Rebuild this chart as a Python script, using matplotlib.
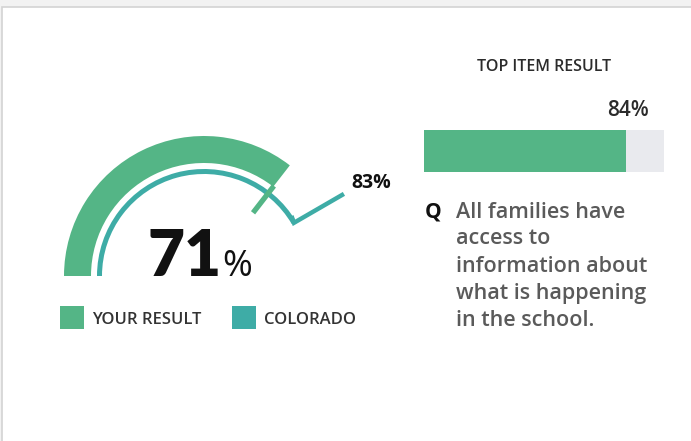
import numpy as np
import matplotlib
matplotlib.use("Agg")
import matplotlib.pyplot as plt
from matplotlib.patches import Wedge, Rectangle

plt.rcParams["font.family"] = ["Open Sans", "DejaVu Sans"]

# data
your_result = 71
colorado = 83
top_item_value = 84
top_item_title = "TOP ITEM RESULT"
question_lines = ["All families have", "access to", "information about",
                  "what is happening", "in the school."]
legend_labels = ["YOUR RESULT", "COLORADO"]

GREEN = "#54b586"
TEAL = "#3eaca6"
LIGHT = "#e9eaee"
DARK = "#2b2b2b"
GRAY_TXT = "#5a5a5a"

W, H = 691, 441
fig = plt.figure(figsize=(W / 100, H / 100), dpi=100)
fig.patch.set_facecolor("#f2f2f2")
ax = fig.add_axes([0, 0, 1, 1])
ax.set_xlim(0, W)
ax.set_ylim(0, H)
ax.axis("off")


def Y(y):
    return H - y


# white panel with border
ax.add_patch(Rectangle((2.5, -5), W + 10, Y(6.5) + 5, facecolor="white",
                       edgecolor="#d3d3d3", linewidth=1.2))

# gauge
cx, cy = 204, Y(276)


def ang(pct):
    return 180 - pct * 1.8


ax.add_patch(Wedge((cx, cy), 140, ang(your_result), 180, width=27,
                   facecolor=GREEN, edgecolor="none"))
ax.add_patch(Wedge((cx, cy), 107, ang(colorado), 180, width=5,
                   facecolor=TEAL, edgecolor="none"))

# marker for your result
a = np.radians(ang(your_result))
ax.plot([cx + 114 * np.cos(a), cx + 80 * np.cos(a)],
        [cy + 114 * np.sin(a), cy + 80 * np.sin(a)],
        color=GREEN, lw=3.8, solid_capstyle="butt")

# leader for colorado
b = np.radians(ang(colorado))
px, py = cx + 104.5 * np.cos(b), cy + 104.5 * np.sin(b)
ax.plot([cx + 106 * np.cos(b) - 3, px, 342], [cy + 106 * np.sin(b) + 4, py, Y(195)],
        color=TEAL, lw=3.2, solid_joinstyle="miter")
ax.text(351, Y(183), f"{colorado}%", fontsize=14, fontweight="bold",
        color="#111111", ha="left", va="center")

# big number
ax.text(222, Y(276), f"{your_result}", fontsize=46, fontweight="heavy",
        family=["Lato", "DejaVu Sans"],
        color="#111111", ha="right", va="baseline")
ax.text(222, Y(276), "%", fontsize=26, color="#111111",
        ha="left", va="baseline")

# legend
for (x0, lab), col in zip([(60, legend_labels[0]), (232, legend_labels[1])],
                          [GREEN, TEAL]):
    ax.add_patch(Rectangle((x0, Y(329)), 24, 23, facecolor=col,
                           edgecolor="none"))
    ax.text(x0 + 32, Y(320), lab, fontsize=12, fontweight="semibold",
            color="#333333", ha="left", va="center")

# top item
ax.text(544, Y(67), top_item_title, fontsize=11.5, fontweight="semibold",
        color=DARK, ha="center", va="center")
ax.text(649, Y(110), f"{top_item_value}%", fontsize=15, fontweight="semibold",
        color=DARK, ha="right", va="center")
bar_x, bar_w = 424, 240
ax.barh(Y(151), bar_w, left=bar_x, height=42, color=LIGHT)
ax.barh(Y(151), bar_w * top_item_value / 100, left=bar_x, height=42,
        color=GREEN)

ax.text(425, Y(212), "Q", fontsize=15, fontweight="bold", color="#111111",
        ha="left", va="center")
for i, line in enumerate(question_lines):
    ax.text(456, Y(212 + 27 * i), line, fontsize=15.5, fontweight="semibold",
            color=GRAY_TXT, ha="left", va="center")

fig.savefig("out.png", dpi=100, facecolor=fig.get_facecolor())
